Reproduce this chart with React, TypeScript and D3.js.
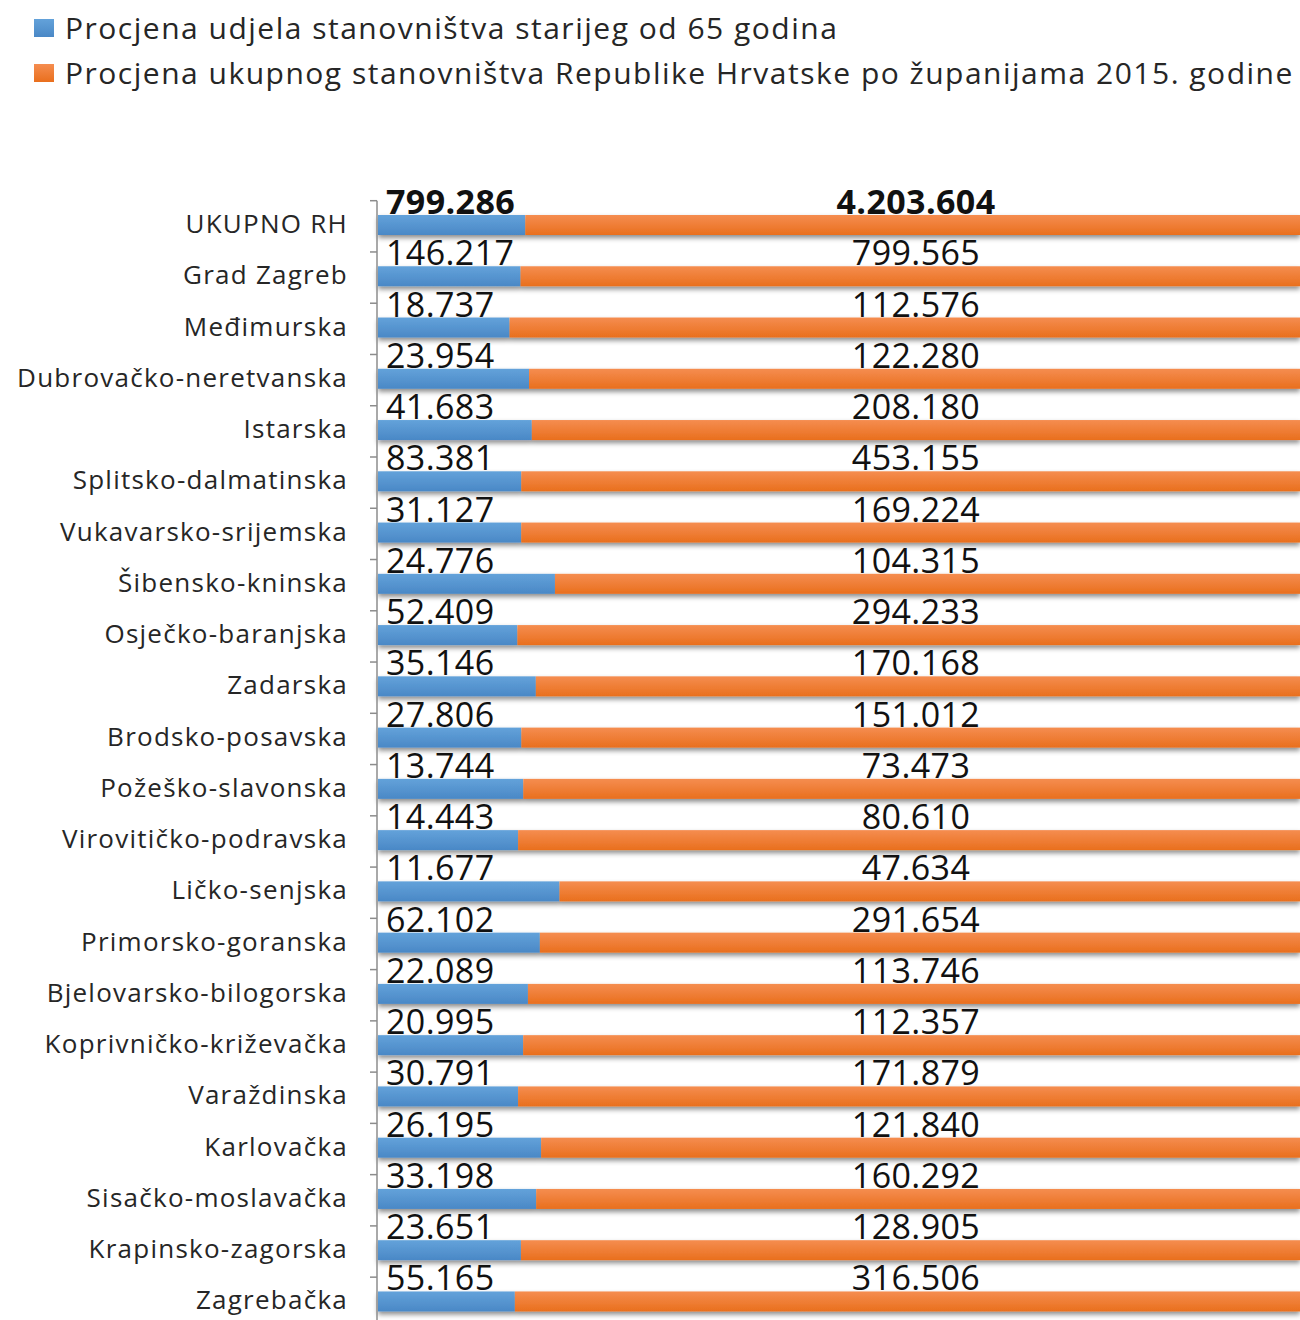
import React, { useEffect, useRef } from 'react';
import * as d3 from 'd3';

const categories = [
  'UKUPNO RH',
  'Grad Zagreb',
  'Međimurska',
  'Dubrovačko-neretvanska',
  'Istarska',
  'Splitsko-dalmatinska',
  'Vukavarsko-srijemska',
  'Šibensko-kninska',
  'Osječko-baranjska',
  'Zadarska',
  'Brodsko-posavska',
  'Požeško-slavonska',
  'Virovitičko-podravska',
  'Ličko-senjska',
  'Primorsko-goranska',
  'Bjelovarsko-bilogorska',
  'Koprivničko-križevačka',
  'Varaždinska',
  'Karlovačka',
  'Sisačko-moslavačka',
  'Krapinsko-zagorska',
  'Zagrebačka',
];

const olderValues = [
  799286, 146217, 18737, 23954, 41683, 83381, 31127, 24776, 52409, 35146, 27806,
  13744, 14443, 11677, 62102, 22089, 20995, 30791, 26195, 33198, 23651, 55165,
];

const totalValues = [
  4203604, 799565, 112576, 122280, 208180, 453155, 169224, 104315, 294233, 170168,
  151012, 73473, 80610, 47634, 291654, 113746, 112357, 171879, 121840, 160292,
  128905, 316506,
];

const seriesNames = [
  'Procjena udjela stanovništva starijeg od 65 godina',
  'Procjena ukupnog stanovništva Republike Hrvatske po županijama 2015. godine',
];

const FONT = '"Open Sans", sans-serif';

const fmt = (v: number) => d3.format(',')(v).replace(/,/g, '.');

const App = () => {
  const ref = useRef<SVGSVGElement | null>(null);

  useEffect(() => {
    const width = 1300;
    const height = 1320;
    const svg = d3.select(ref.current);
    svg.selectAll('*').remove();
    svg.attr('width', width).attr('height', height);

    const defs = svg.append('defs');
    const grad = (id: string, top: string, bottom: string) => {
      const g = defs
        .append('linearGradient')
        .attr('id', id)
        .attr('x1', 0)
        .attr('y1', 0)
        .attr('x2', 0)
        .attr('y2', 1);
      g.append('stop').attr('offset', '0%').attr('stop-color', top);
      g.append('stop').attr('offset', '100%').attr('stop-color', bottom);
    };
    grad('gBlue', '#63a2da', '#4a88c6');
    grad('gOrange', '#f58d50', '#e96f1d');

    const shadow = defs
      .append('filter')
      .attr('id', 'shadow')
      .attr('x', '-5%')
      .attr('y', '-20%')
      .attr('width', '110%')
      .attr('height', '180%');
    shadow
      .append('feDropShadow')
      .attr('dx', 0)
      .attr('dy', 3)
      .attr('stdDeviation', 2.5)
      .attr('flood-color', '#000')
      .attr('flood-opacity', 0.45);

    // legend
    const colors = ['url(#gBlue)', 'url(#gOrange)'];
    const legend = svg
      .selectAll('g.legend')
      .data(seriesNames)
      .enter()
      .append('g')
      .attr('class', 'legend')
      .attr('transform', (d, i) => `translate(34, ${28 + i * 45})`);
    legend
      .append('rect')
      .attr('x', 0)
      .attr('y', -9)
      .attr('width', 20)
      .attr('height', 18)
      .attr('fill', (d, i) => colors[i]);
    legend
      .append('text')
      .attr('x', 31)
      .attr('y', 0)
      .attr('dy', '0.35em')
      .attr('font-family', FONT)
      .attr('font-size', 30)
      .attr('letter-spacing', 1.5)
      .attr('fill', '#262626')
      .text((d) => d);

    const x0 = 378;
    const xScale = d3.scaleLinear().domain([0, 1]).range([x0, width]);

    const yScale = d3
      .scaleBand()
      .domain(categories)
      .range([200.7, 200.7 + categories.length * 51.26])
      .paddingInner(0)
      .paddingOuter(0);

    const barH = 20;
    const barOff = 14.3;

    const rows = categories.map((c, i) => {
      const sum = olderValues[i] + totalValues[i];
      return { c, i, a: olderValues[i] / sum };
    });

    const barG = svg
      .selectAll('g.row')
      .data(rows)
      .enter()
      .append('g')
      .attr('class', 'row')
      .attr('filter', 'url(#shadow)');

    barG
      .append('rect')
      .attr('x', xScale(0))
      .attr('y', (d) => yScale(d.c)! + barOff)
      .attr('width', (d) => xScale(d.a) - xScale(0))
      .attr('height', barH)
      .attr('fill', 'url(#gBlue)');

    barG
      .append('rect')
      .attr('x', (d) => xScale(d.a))
      .attr('y', (d) => yScale(d.c)! + barOff)
      .attr('width', (d) => xScale(1) - xScale(d.a))
      .attr('height', barH)
      .attr('fill', 'url(#gOrange)');

    // axis
    const axis = svg.append('g');
    axis
      .append('line')
      .attr('x1', 377)
      .attr('x2', 377)
      .attr('y1', yScale.range()[0])
      .attr('y2', height)
      .attr('stroke', '#8c8c8c')
      .attr('stroke-width', 1.5);
    axis
      .selectAll('line.tick')
      .data(categories)
      .enter()
      .append('line')
      .attr('class', 'tick')
      .attr('x1', 370)
      .attr('x2', 377)
      .attr('y1', (d) => yScale(d)!)
      .attr('y2', (d) => yScale(d)!)
      .attr('stroke', '#8c8c8c')
      .attr('stroke-width', 1.5);

    // category labels
    svg
      .selectAll('text.cat')
      .data(categories)
      .enter()
      .append('text')
      .attr('class', 'cat')
      .attr('x', 348)
      .attr('y', (d) => yScale(d)! + barOff + barH - 2)
      .attr('text-anchor', 'end')
      .attr('font-family', FONT)
      .attr('font-size', 26)
      .attr('letter-spacing', 1.25)
      .attr('fill', '#262626')
      .text((d) => d);

    // value labels
    svg
      .selectAll('text.v1')
      .data(rows)
      .enter()
      .append('text')
      .attr('class', 'v1')
      .attr('x', 386)
      .attr('y', (d) => yScale(d.c)! + barOff - 1)
      .attr('font-family', FONT)
      .attr('font-size', 34)
      .attr('letter-spacing', 0.4)
      .attr('font-weight', (d) => (d.i === 0 ? 'bold' : 'normal'))
      .attr('fill', '#111')
      .text((d) => fmt(olderValues[d.i]));

    svg
      .selectAll('text.v2')
      .data(rows)
      .enter()
      .append('text')
      .attr('class', 'v2')
      .attr('x', 916)
      .attr('y', (d) => yScale(d.c)! + barOff - 1)
      .attr('text-anchor', 'middle')
      .attr('font-family', FONT)
      .attr('font-size', 34)
      .attr('letter-spacing', 0.4)
      .attr('font-weight', (d) => (d.i === 0 ? 'bold' : 'normal'))
      .attr('fill', '#111')
      .text((d) => fmt(totalValues[d.i]));
  }, []);

  return (
    <svg
      ref={ref}
      style={{ position: 'absolute', left: 0, top: 0, background: '#fff' }}
    />
  );
};

export default App;
